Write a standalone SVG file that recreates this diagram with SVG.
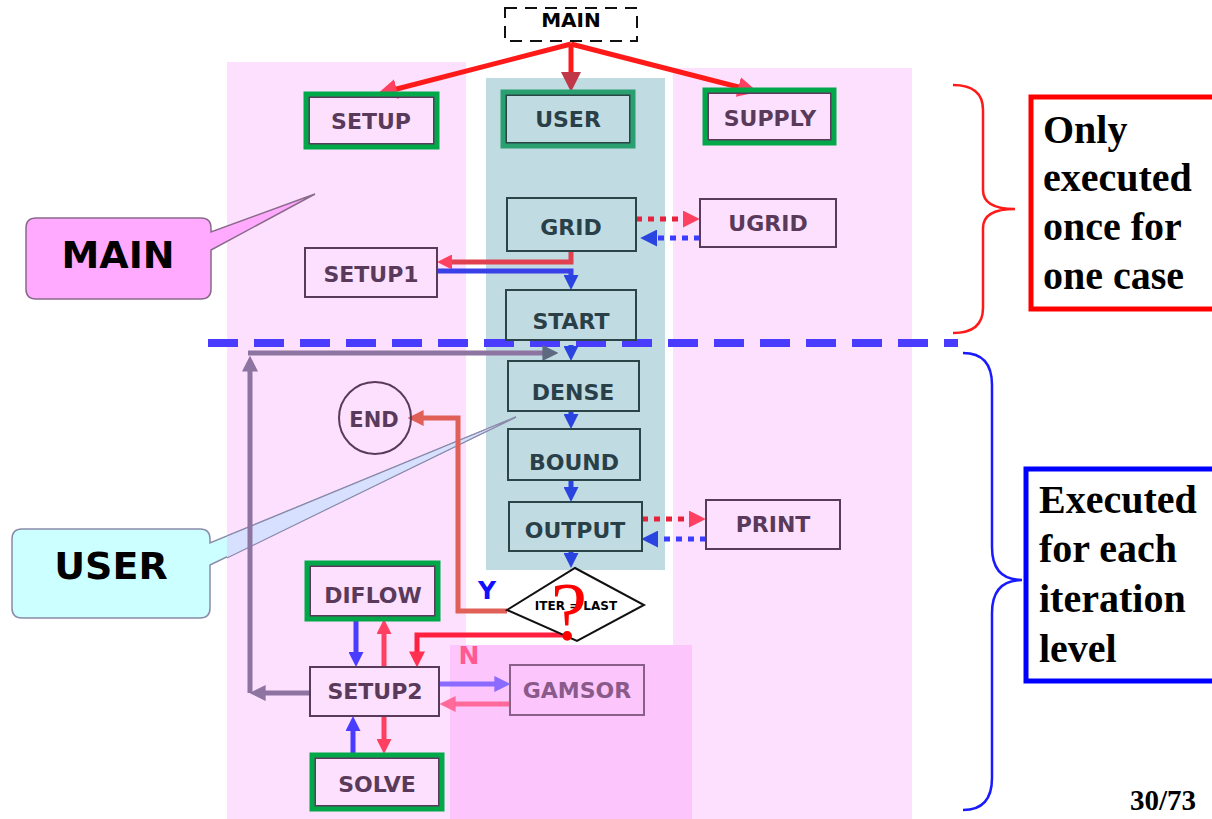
<svg xmlns="http://www.w3.org/2000/svg" width="1212" height="819" viewBox="0 0 1212 819">
<style>
.lbl{font-family:"DejaVu Sans","Liberation Sans",sans-serif;font-weight:bold;font-size:22px;text-anchor:middle}
.pk{fill:#5a3a5a}
.bl{fill:#2a4048}
.bxp{fill:none;stroke:#5a3a5a;stroke-width:2}
.bxb{fill:none;stroke:#2a4448;stroke-width:2}
.grn{fill:none;stroke:#00a84a;stroke-width:5}
.side{font-family:"Liberation Serif","Times New Roman",serif;font-weight:bold;font-size:40px;fill:#000}
.ln{fill:none;stroke-width:5}
.dot{fill:none;stroke-width:5;stroke-dasharray:6 6}
</style>
<defs>
<marker id="hRedBig" viewBox="0 0 10 10" refX="6" refY="5" markerWidth="20" markerHeight="20" markerUnits="userSpaceOnUse" orient="auto"><path d="M0,0 L10,5 L0,10 z" fill="#ff4060"/></marker>
<marker id="hUser" viewBox="0 0 10 10" refX="6" refY="5" markerWidth="20" markerHeight="20" markerUnits="userSpaceOnUse" orient="auto"><path d="M0,0 L10,5 L0,10 z" fill="#c03848"/></marker>
<marker id="hBlue" viewBox="0 0 10 10" refX="6" refY="5" markerWidth="15" markerHeight="15" markerUnits="userSpaceOnUse" orient="auto"><path d="M0,0 L10,5 L0,10 z" fill="#2a44e0"/></marker>
<marker id="hVio" viewBox="0 0 10 10" refX="6" refY="5" markerWidth="15" markerHeight="15" markerUnits="userSpaceOnUse" orient="auto"><path d="M0,0 L10,5 L0,10 z" fill="#4a3cff"/></marker>
<marker id="hRed" viewBox="0 0 10 10" refX="6" refY="5" markerWidth="15" markerHeight="15" markerUnits="userSpaceOnUse" orient="auto"><path d="M0,0 L10,5 L0,10 z" fill="#ff4060"/></marker>
<marker id="hDotR" viewBox="0 0 10 10" refX="6" refY="5" markerWidth="17" markerHeight="17" markerUnits="userSpaceOnUse" orient="auto"><path d="M0,0 L10,5 L0,10 z" fill="#ff4060"/></marker>
<marker id="hDotB" viewBox="0 0 10 10" refX="6" refY="5" markerWidth="17" markerHeight="17" markerUnits="userSpaceOnUse" orient="auto"><path d="M0,0 L10,5 L0,10 z" fill="#2a44e0"/></marker>
<marker id="hLoop" viewBox="0 0 10 10" refX="6" refY="5" markerWidth="16" markerHeight="16" markerUnits="userSpaceOnUse" orient="auto"><path d="M0,0 L10,5 L0,10 z" fill="#8e74a0"/></marker>
<marker id="hLoopD" viewBox="0 0 10 10" refX="6" refY="5" markerWidth="16" markerHeight="16" markerUnits="userSpaceOnUse" orient="auto"><path d="M0,0 L10,5 L0,10 z" fill="#5e6a80"/></marker>
<marker id="hY" viewBox="0 0 10 10" refX="6" refY="5" markerWidth="16" markerHeight="16" markerUnits="userSpaceOnUse" orient="auto"><path d="M0,0 L10,5 L0,10 z" fill="#e06058"/></marker>
<marker id="hN" viewBox="0 0 10 10" refX="6" refY="5" markerWidth="16" markerHeight="16" markerUnits="userSpaceOnUse" orient="auto"><path d="M0,0 L10,5 L0,10 z" fill="#ff3050"/></marker>
<marker id="hPur" viewBox="0 0 10 10" refX="6" refY="5" markerWidth="16" markerHeight="16" markerUnits="userSpaceOnUse" orient="auto"><path d="M0,0 L10,5 L0,10 z" fill="#8a6aff"/></marker>
<marker id="hPink" viewBox="0 0 10 10" refX="6" refY="5" markerWidth="16" markerHeight="16" markerUnits="userSpaceOnUse" orient="auto"><path d="M0,0 L10,5 L0,10 z" fill="#ff6a9a"/></marker>
</defs>

<!-- background panels -->
<g id="panels">
<rect x="227" y="62" width="239" height="757" fill="#fde0fd"/>
<rect x="673" y="68" width="239" height="751" fill="#fde0fd"/>
<rect x="486" y="78" width="179" height="492" fill="#c0dbe2"/>
<rect x="450" y="645" width="242" height="174" fill="#fcc6fc"/>
</g>

<!-- callouts -->
<g id="callout-main">
<path d="M36,218 H201 Q211,218 211,228 V232 L315,194 L211,250 V289 Q211,299 201,299 H36 Q26,299 26,289 V228 Q26,218 36,218 Z" fill="#ffaaff" stroke="#8a6a8a" stroke-width="1.5"/>
<text x="118" y="268" font-family="DejaVu Sans,Liberation Sans,sans-serif" font-weight="bold" font-size="38" text-anchor="middle" fill="#000">MAIN</text>
</g>
<g id="callout-user">
<path d="M22,529 H200 Q210,529 210,539 V543 L516,417 L210,565 V608 Q210,618 200,618 H22 Q12,618 12,608 V539 Q12,529 22,529 Z" fill="#ccffff" stroke="#8a8aaa" stroke-width="1.5"/>
<path d="M227,536 L516,417 L227,558 Z" fill="#d8e0ff"/>
<path d="M227,536 L516,417 L227,558" fill="none" stroke="#8a8aaa" stroke-width="1.2"/>
<text x="111" y="579" font-family="DejaVu Sans,Liberation Sans,sans-serif" font-weight="bold" font-size="38" text-anchor="middle" fill="#000">USER</text>
</g>

<!-- separator -->
<g id="separator">
<path d="M208,343 H958" stroke="#4a3cff" stroke-width="8" stroke-dasharray="30 16" fill="none"/>
</g>

<!-- connectors -->
<g id="connectors">
<path class="ln" d="M571,44 L385,92" stroke="#ff1a1a" stroke-width="6" marker-end="url(#hRedBig)"/>
<path class="ln" d="M571,44 L571,84" stroke="#ff1a1a" stroke-width="6" marker-end="url(#hUser)"/>
<path class="ln" d="M571,44 L750,90" stroke="#ff1a1a" stroke-width="6" marker-end="url(#hRedBig)"/>
<path class="ln" d="M571,251 V262 H443" stroke="#e0404f" marker-end="url(#hRed)"/>
<path class="ln" d="M437,271 H571 V284" stroke="#3a40e8" marker-end="url(#hBlue)"/>
<path class="dot" d="M636,219 H693" stroke="#e8203a" marker-end="url(#hDotR)"/>
<path class="dot" d="M700,238 H647" stroke="#3a3cff" marker-end="url(#hDotB)"/>
<path class="ln" d="M571,345 V355" stroke="#2a44e0" marker-end="url(#hBlue)"/>
<path class="ln" d="M571,411 V423" stroke="#2a44e0" marker-end="url(#hBlue)"/>
<path class="ln" d="M571,480 V496" stroke="#2a44e0" marker-end="url(#hBlue)"/>
<path class="ln" d="M571,551 V562" stroke="#2a44e0" marker-end="url(#hBlue)"/>
<path class="dot" d="M642,519 H699" stroke="#e8203a" marker-end="url(#hDotR)"/>
<path class="dot" d="M706,539 H648" stroke="#3a3cff" marker-end="url(#hDotB)"/>
<path class="ln" d="M310,693 H256" stroke="#8e74a0" marker-end="url(#hLoop)"/>
<path class="ln" d="M250,693 V362" stroke="#8e74a0" marker-end="url(#hLoop)"/>
<path class="ln" d="M248,353 H552" stroke="#8e74a0" marker-end="url(#hLoopD)"/>
<path class="ln" d="M507,611 H458 V418 H414" stroke="#e06058" marker-end="url(#hY)"/>
<path class="ln" d="M568,635 H417 V661" stroke="#ff2040" marker-end="url(#hN)"/>
<path class="ln" d="M356,619 V661" stroke="#4a3cff" marker-end="url(#hVio)"/>
<path class="ln" d="M384,667 V625" stroke="#ff4060" marker-end="url(#hRed)"/>
<path class="ln" d="M439,684 H504" stroke="#8a6aff" marker-end="url(#hPur)"/>
<path class="ln" d="M510,704 H446" stroke="#ff6a9a" marker-end="url(#hPink)"/>
<path class="ln" d="M353,755 V722" stroke="#4a3cff" marker-end="url(#hVio)"/>
<path class="ln" d="M384,716 V748" stroke="#ff4060" marker-end="url(#hRed)"/>
<text x="487" y="599" font-family="DejaVu Sans,Liberation Sans,sans-serif" font-weight="bold" font-size="25" text-anchor="middle" fill="#1010ff">Y</text>
<text x="469" y="664" font-family="DejaVu Sans,Liberation Sans,sans-serif" font-weight="bold" font-size="25" text-anchor="middle" fill="#ff5a90">N</text>
</g>

<!-- nodes -->
<g id="node-main">
<rect x="505" y="8" width="132" height="33" fill="#fff" stroke="#111" stroke-width="2" stroke-dasharray="12 8"/>
<text x="571" y="27" font-family="DejaVu Sans,Liberation Sans,sans-serif" font-weight="bold" font-size="20" text-anchor="middle" fill="#000">MAIN</text>
</g>
<g id="node-setup">
<rect class="bxp" x="309" y="97" width="125" height="47"/>
<rect class="grn" x="306" y="94" width="131" height="53"/>
<text class="lbl pk" x="371" y="129">SETUP</text>
</g>
<g id="node-user">
<rect class="bxb" x="506" y="95" width="124" height="48"/>
<rect class="grn" x="503" y="92" width="130" height="54" style="stroke:#2aa070"/>
<text class="lbl bl" x="568" y="127">USER</text>
</g>
<g id="node-supply">
<rect class="bxp" x="708" y="93" width="123" height="47"/>
<rect class="grn" x="705" y="90" width="129" height="53"/>
<text class="lbl pk" x="770" y="126">SUPPLY</text>
</g>
<g id="node-grid">
<rect class="bxb" x="507" y="198" width="129" height="53"/>
<text class="lbl bl" x="571" y="235">GRID</text>
</g>
<g id="node-ugrid">
<rect class="bxp" x="700" y="199" width="136" height="48"/>
<text class="lbl pk" x="768" y="231">UGRID</text>
</g>
<g id="node-setup1">
<rect class="bxp" x="305" y="248" width="132" height="49"/>
<text class="lbl pk" x="371" y="282">SETUP1</text>
</g>
<g id="node-start">
<rect class="bxb" x="506" y="290" width="130" height="50"/>
<text class="lbl bl" x="571" y="329">START</text>
</g>
<g id="node-dense">
<rect class="bxb" x="508" y="361" width="131" height="50"/>
<text class="lbl bl" x="573" y="400">DENSE</text>
</g>
<g id="node-bound">
<rect class="bxb" x="508" y="429" width="132" height="51"/>
<text class="lbl bl" x="574" y="470">BOUND</text>
</g>
<g id="node-output">
<rect class="bxb" x="509" y="502" width="133" height="49"/>
<text class="lbl bl" x="575" y="538">OUTPUT</text>
</g>
<g id="node-print">
<rect class="bxp" x="706" y="500" width="134" height="49"/>
<text class="lbl pk" x="773" y="532">PRINT</text>
</g>
<g id="node-end">
<circle cx="375" cy="418" r="36" fill="none" stroke="#5a3a5a" stroke-width="2"/>
<text class="lbl pk" x="374" y="427" style="font-size:21px">END</text>
</g>
<g id="node-decision">
<polygon points="575,568 644,605 577,641 507,610" fill="#fff" stroke="#111" stroke-width="2"/>
<text x="576" y="610" font-family="DejaVu Sans,Liberation Sans,sans-serif" font-weight="bold" font-size="12" text-anchor="middle" fill="#000">ITER = LAST</text>
<text x="569" y="639" font-family="Liberation Serif,Times New Roman,serif" font-size="82" text-anchor="middle" fill="#ff0000">?</text>
</g>
<g id="node-diflow">
<rect class="bxp" x="310" y="566" width="125" height="50"/>
<rect class="grn" x="307" y="563" width="131" height="56"/>
<text class="lbl pk" x="373" y="603">DIFLOW</text>
</g>
<g id="node-setup2">
<rect class="bxp" x="310" y="667" width="129" height="49"/>
<text class="lbl pk" x="375" y="699">SETUP2</text>
</g>
<g id="node-gamsor">
<rect x="510" y="665" width="134" height="50" fill="none" stroke="#8a608a" stroke-width="2"/>
<text class="lbl" x="577" y="698" fill="#8a5a8a">GAMSOR</text>
</g>
<g id="node-solve">
<rect class="bxp" x="315" y="758" width="124" height="48"/>
<rect class="grn" x="312" y="755" width="130" height="54"/>
<text class="lbl pk" x="377" y="792">SOLVE</text>
</g>

<!-- right side annotations -->
<g id="note-once">
<path d="M953,85 Q983,85 983,110 V190 Q983,209 1015,209 Q983,209 983,228 V308 Q983,333 953,333" fill="none" stroke="#ff1a1a" stroke-width="2.5"/>
<rect x="1031" y="97" width="190" height="212" fill="#fff" stroke="#ff0000" stroke-width="5"/>
<text class="side" x="1043" y="143">Only</text>
<text class="side" x="1043" y="191">executed</text>
<text class="side" x="1043" y="240">once for</text>
<text class="side" x="1043" y="289">one case</text>
</g>
<g id="note-iter">
<path d="M963,353 Q992,353 992,385 V547 Q992,580 1022,580 Q992,580 992,613 V778 Q992,810 963,810" fill="none" stroke="#1a1aff" stroke-width="2.5"/>
<rect x="1026" y="469" width="195" height="212" fill="#fff" stroke="#0000ff" stroke-width="5"/>
<text class="side" x="1039" y="513">Executed</text>
<text class="side" x="1039" y="562">for each</text>
<text class="side" x="1039" y="612">iteration</text>
<text class="side" x="1039" y="662">level</text>
</g>
<text x="1130" y="810" font-family="Liberation Serif,Times New Roman,serif" font-weight="bold" font-size="29" fill="#000">30/73</text>
</svg>
